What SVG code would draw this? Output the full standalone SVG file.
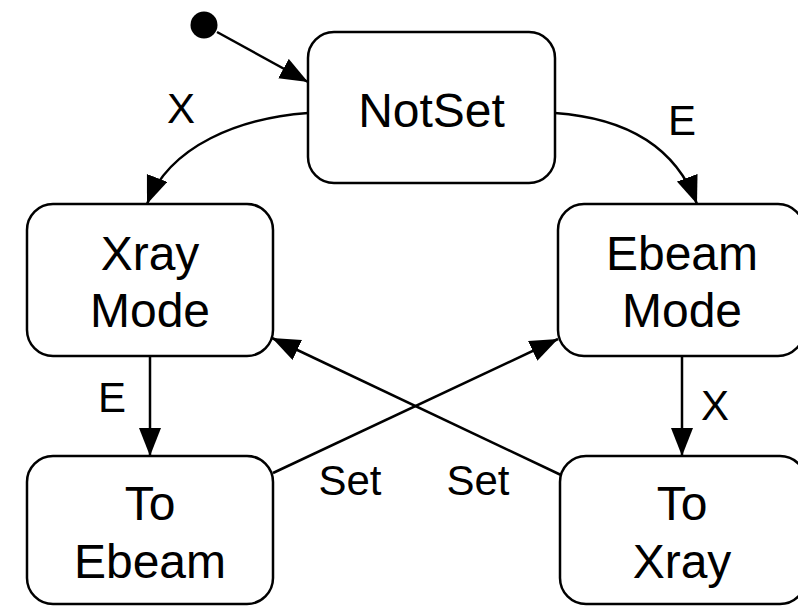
<svg xmlns="http://www.w3.org/2000/svg" width="798" height="606" viewBox="0 0 798 606">
<style>
.node rect{fill:#fff;stroke:#000;stroke-width:2.5}
.node text{font-family:"Liberation Sans",Arial,sans-serif;font-size:48px;text-anchor:middle;fill:#000}
.edge{fill:none;stroke:#000;stroke-width:2.5;marker-end:url(#arr)}
.lbl{font-family:"Liberation Sans",Arial,sans-serif;font-size:42px;fill:#000}
</style>
<defs>
<marker id="arr" markerUnits="userSpaceOnUse" markerWidth="30" markerHeight="24" refX="28" refY="11" orient="auto">
<path d="M0,0 L28,11 L0,22 z" fill="#000"/>
</marker>
</defs>
<rect width="798" height="606" fill="#fff"/>
<g id="connectors">
<line class="edge" x1="217" y1="32" x2="308" y2="82"/>
<path class="edge" d="M308,113 C240,118 170,145 147,204"/>
<path class="edge" d="M555,113 C625,118 675,145 697,204"/>
<line class="edge" x1="150" y1="356" x2="150" y2="456"/>
<line class="edge" x1="682" y1="356" x2="682" y2="456"/>
<line class="edge" x1="273" y1="473" x2="558" y2="339"/>
<line class="edge" x1="561" y1="475" x2="272" y2="338"/>
<text class="lbl" x="181" y="123" text-anchor="middle">X</text>
<text class="lbl" x="682" y="135" text-anchor="middle">E</text>
<text class="lbl" x="112" y="412" text-anchor="middle">E</text>
<text class="lbl" x="715" y="420" text-anchor="middle">X</text>
<text class="lbl" x="350" y="495" text-anchor="middle">Set</text>
<text class="lbl" x="478" y="495" text-anchor="middle">Set</text>
</g>
<g id="initial"><circle cx="204" cy="25" r="13.5" fill="#000"/></g>
<g id="NotSet" class="node"><rect x="308" y="32" width="247" height="151" rx="26"/><text x="431.5" y="127">NotSet</text></g>
<g id="XrayMode" class="node"><rect x="27" y="204" width="246" height="152" rx="26"/><text x="150" y="270">Xray</text><text x="150" y="327">Mode</text></g>
<g id="EbeamMode" class="node"><rect x="558" y="204" width="246" height="152" rx="26"/><text x="682" y="270">Ebeam</text><text x="682" y="327">Mode</text></g>
<g id="ToEbeam" class="node"><rect x="27" y="456" width="246" height="148" rx="26"/><text x="150" y="520">To</text><text x="150" y="578">Ebeam</text></g>
<g id="ToXray" class="node"><rect x="560" y="456" width="246" height="148" rx="26"/><text x="682" y="520">To</text><text x="682" y="578">Xray</text></g>
</svg>
